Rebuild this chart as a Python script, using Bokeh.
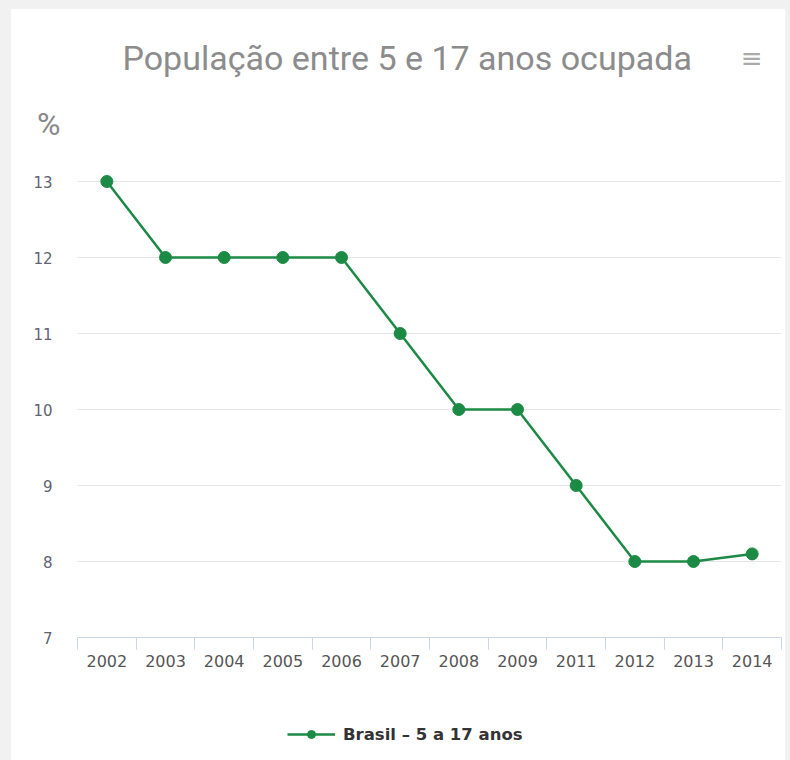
from bokeh.plotting import figure
from bokeh.layouts import column
from bokeh.models import (Range1d, FixedTicker, Label, Legend, LegendItem,
                          LinearAxis)
from bokeh.embed import file_html
from bokeh.resources import INLINE

# ---- data ----
years = ["2002", "2003", "2004", "2005", "2006", "2007", "2008", "2009",
         "2011", "2012", "2013", "2014"]
values = [13, 12, 12, 12, 12, 11, 10, 10, 9, 8, 8, 8.1]
y_ticks = [7, 8, 9, 10, 11, 12, 13]
series_name = "Brasil – 5 a 17 anos"
title_text = "População entre 5 e 17 anos ocupada"
unit_text = "%"

GREEN = "#1b8a44"
PAGE_BG = "#f1f1f1"
LABEL_FONT = "DejaVu Sans"

PX_PER_UNIT = 76.0          # vertical scale of the plot area
Y0 = 7                      # value at the x axis line


def y_at(page_y):
    """value that falls at a given vertical pixel of the page"""
    return Y0 + (637 - page_y) / PX_PER_UNIT


x = list(range(len(years)))


def strips(top):
    parts = [f"linear-gradient({PAGE_BG},{PAGE_BG}) left top / 11px 100% no-repeat",
             f"linear-gradient({PAGE_BG},{PAGE_BG}) right top / 5px 100% no-repeat"]
    if top:
        parts.append(f"linear-gradient({PAGE_BG},{PAGE_BG}) left top / 100% 9px no-repeat")
    return ", ".join(parts) + ", white"


# ---- main chart ----
p = figure(frame_width=704, frame_height=628, output_backend="svg",
           toolbar_location=None,
           x_range=Range1d(-0.5, len(years) - 0.5),
           y_range=Range1d(Y0, y_at(9)),
           min_border_left=77, min_border_right=9,
           min_border_top=9, min_border_bottom=60,
           styles={"background": strips(True)})
p.outline_line_color = None
p.background_fill_color = "white"
p.border_fill_alpha = 0

# x axis: labels at category centres, tick marks between categories
xa = p.xaxis[0]
xa.ticker = FixedTicker(ticks=x, minor_ticks=[i - 0.5 for i in range(len(years) + 1)])
xa.major_label_overrides = {i: y for i, y in enumerate(years)}
xa.axis_line_color = "#ccd6eb"
xa.major_tick_line_alpha = 0
xa.major_tick_out = 12
xa.major_tick_in = 0
xa.minor_tick_line_color = "#ccd6eb"
xa.minor_tick_out = 12
xa.minor_tick_in = 0
xa.major_label_standoff = 5
xa.major_label_text_font = LABEL_FONT
xa.major_label_text_font_size = "16px"
xa.major_label_text_color = "#555555"

ya = p.yaxis[0]
ya.ticker = FixedTicker(ticks=y_ticks)
ya.axis_line_color = None
ya.major_tick_line_color = None
ya.minor_tick_line_color = None
ya.major_tick_out = 0
ya.major_tick_in = 0
ya.major_label_standoff = 25
ya.major_label_text_font = LABEL_FONT
ya.major_label_text_font_size = "15px"
ya.major_label_text_color = "#5f6373"

# unit label ("%") above the value axis, drawn by a second left axis
pct_y = y_at(123)
ua = LinearAxis(ticker=FixedTicker(ticks=[pct_y]),
                major_label_overrides={pct_y: unit_text},
                axis_line_color=None, major_tick_line_color=None,
                minor_tick_line_color=None, major_tick_out=0, major_tick_in=0,
                major_label_standoff=-30,
                major_label_text_font="Roboto", major_label_text_font_size="32px",
                major_label_text_color="#888888")
p.add_layout(ua, "left")

p.xgrid.visible = False
p.ygrid.ticker = FixedTicker(ticks=y_ticks)
p.ygrid.grid_line_color = "#e6e6e6"
p.ygrid.grid_line_width = 1

p.line(x, values, line_color=GREEN, line_width=2.5)
p.scatter(x, values, size=12, fill_color=GREEN, line_color=GREEN)

# title and menu icon (inside the plot area, above the top grid line)
p.add_layout(Label(x=5.12, y=y_at(57), text=title_text, text_align="center",
                   text_baseline="middle", text_font="Roboto",
                   text_font_size="34px", text_color="#8c8c8c"))
p.add_layout(Label(x=10.99, y=y_at(57), text="≡", text_align="center",
                   text_baseline="middle", text_font="DejaVu Sans",
                   text_font_size="26px", text_color="#aaaaaa"))

# ---- footer holding the legend ----
foot = figure(frame_width=704, frame_height=63, output_backend="svg",
              toolbar_location=None,
              x_range=Range1d(-0.5, len(years) - 0.5), y_range=Range1d(0, 1),
              min_border_left=77, min_border_right=9,
              min_border_top=0, min_border_bottom=0,
              styles={"background": strips(False)})
foot.axis.visible = False
foot.grid.visible = False
foot.outline_line_color = None
foot.background_fill_color = "white"
foot.border_fill_alpha = 0

# series drawn again here only as the legend's key (its values lie outside this strip's range)
f_ln = foot.line(x, values, line_color=GREEN, line_width=2.5)
f_sc = foot.scatter(x, values, size=12, fill_color=GREEN, line_color=GREEN)

legend = Legend(items=[LegendItem(label=series_name, renderers=[f_ln, f_sc])],
                location=(210, 16), orientation="horizontal",
                glyph_width=48, glyph_height=20, label_standoff=8,
                label_height=20, padding=0, margin=0,
                border_line_color=None, background_fill_alpha=0,
                label_text_font=LABEL_FONT, label_text_font_size="16.5px",
                label_text_font_style="bold", label_text_color="#333333")
foot.add_layout(legend)

layout = column(p, foot, spacing=0)

open("out.html", "w").write(file_html(layout, INLINE))
